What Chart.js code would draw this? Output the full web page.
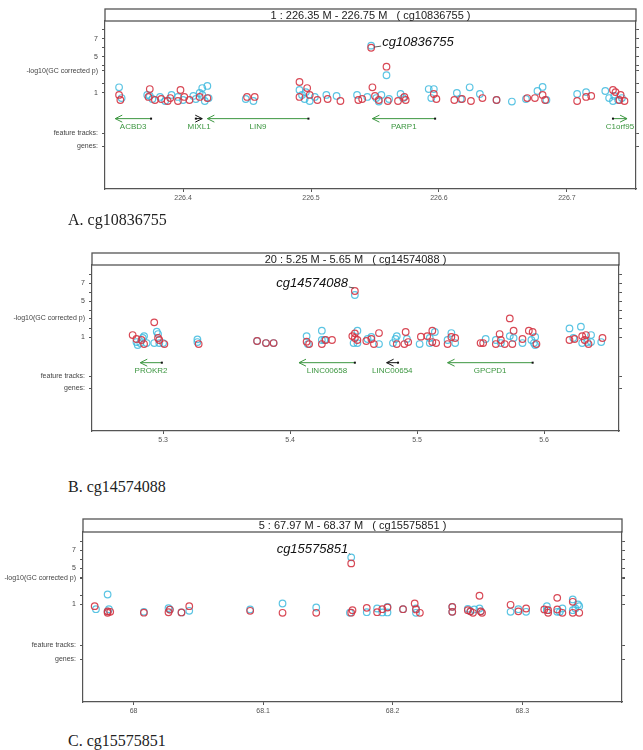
<!DOCTYPE html>
<html>
<head>
<meta charset="utf-8">
<script src="https://cdn.jsdelivr.net/npm/chart.js@4.4.1/dist/chart.umd.min.js"></script>
<style>
  body { margin: 0; background: #fff; width: 643px; height: 750px; position: relative; overflow: hidden; }
  canvas { position: absolute; left: 0; }
  .cap { position: absolute; left: 68px; font: 16px "Liberation Serif", "DejaVu Serif", serif; color: #222; line-height: 18px; }
</style>
</head>
<body>
<canvas id="chartA" width="643" height="212" style="top:0px"></canvas>
<div class="cap" style="top:211px">A. cg10836755</div>
<canvas id="chartB" width="643" height="212" style="top:244px"></canvas>
<div class="cap" style="top:478px">B. cg14574088</div>
<canvas id="chartC" width="643" height="212" style="top:510px"></canvas>
<div class="cap" style="top:732px">C. cg15575851</div>

<script>
// ---- Panel A: chr1 226.35 - 226.75 M ----
const redPosA = [226.350, 226.351, 226.374, 226.373, 226.378, 226.383, 226.390, 226.388, 226.396, 226.398, 226.401, 226.405, 226.413, 226.419, 226.450, 226.456, 226.491, 226.497, 226.491, 226.499, 226.505, 226.513, 226.523, 226.537, 226.548, 226.547, 226.559, 226.550, 226.553, 226.560, 226.540, 226.568, 226.573, 226.574, 226.596, 226.598, 226.612, 226.618, 226.625, 226.634, 226.645, 226.669, 226.675, 226.681, 226.683, 226.708, 226.715, 226.719, 226.736, 226.738, 226.741, 226.745, 226.742];
const redValA = [0.78, 0.22, 1.44, 0.56, 0.22, 0.33, 0.44, 0.11, 0.11, 1.33, 0.56, 0.22, 0.56, 0.44, 0.56, 0.56, 2.22, 1.55, 0.56, 0.78, 0.22, 0.33, 0.11, 0.22, 1.63, 6.03, 3.92, 0.67, 0.22, 0.11, 0.33, 0.11, 0.56, 0.22, 0.89, 0.33, 0.22, 0.33, 0.11, 0.44, 0.22, 0.44, 0.44, 0.78, 0.22, 0.11, 0.56, 0.67, 1.33, 1.10, 0.22, 0.11, 0.78];
const cyanPosA = [226.350, 226.352, 226.372, 226.374, 226.376, 226.382, 226.386, 226.391, 226.396, 226.400, 226.408, 226.410, 226.413, 226.415, 226.417, 226.415, 226.419, 226.420, 226.449, 226.455, 226.491, 226.493, 226.495, 226.496, 226.499, 226.503, 226.512, 226.520, 226.536, 226.544, 226.547, 226.559, 226.551, 226.555, 226.561, 226.553, 226.570, 226.572, 226.592, 226.596, 226.594, 226.614, 226.617, 226.624, 226.632, 226.645, 226.657, 226.668, 226.677, 226.681, 226.684, 226.708, 226.715, 226.730, 226.733, 226.737, 226.740, 226.743, 226.736];
const cyanValA = [1.63, 0.44, 0.78, 0.67, 0.33, 0.56, 0.11, 0.78, 0.56, 0.22, 0.67, 0.33, 1.00, 0.78, 0.11, 1.55, 1.78, 0.44, 0.33, 0.11, 1.33, 0.78, 0.33, 1.10, 0.11, 0.56, 0.78, 0.67, 0.78, 0.56, 6.26, 2.97, 0.44, 0.78, 0.33, 0.05, 0.89, 0.44, 1.44, 1.44, 0.44, 1.00, 0.33, 1.63, 0.89, 0.22, 0.05, 0.33, 1.22, 1.67, 0.22, 0.89, 1.10, 1.22, 0.44, 0.67, 0.22, 0.44, 0.11];
const geneNamesA = ['ACBD3', 'MIXL1', 'LIN9', 'PARP1', 'C1orf95'];
const geneStartA = [226.347, 226.410, 226.419, 226.548, 226.736];
const geneEndA = [226.375, 226.415, 226.498, 226.597, 226.747];
const geneStrandA = [-1, 1, -1, -1, 1];
const xTicksA = [226.4, 226.5, 226.6, 226.7];
const xTickLabelsA = ['226.4', '226.5', '226.6', '226.7'];

// ---- Panel B: chr20 5.25 - 5.65 M ----
const redPosB = [5.276, 5.279, 5.283, 5.285, 5.293, 5.296, 5.297, 5.301, 5.328, 5.374, 5.381, 5.387, 5.413, 5.415, 5.425, 5.428, 5.433, 5.451, 5.451, 5.449, 5.451, 5.453, 5.460, 5.464, 5.466, 5.470, 5.484, 5.491, 5.490, 5.493, 5.503, 5.508, 5.512, 5.515, 5.512, 5.527, 5.530, 5.524, 5.550, 5.552, 5.565, 5.562, 5.569, 5.566, 5.573, 5.576, 5.575, 5.583, 5.588, 5.591, 5.594, 5.620, 5.624, 5.630, 5.633, 5.632, 5.635, 5.646];
const redValB = [1.22, 0.78, 0.67, 0.22, 2.63, 0.89, 0.67, 0.22, 0.22, 0.56, 0.33, 0.33, 0.48, 0.22, 0.22, 0.67, 0.67, 6.11, 1.41, 1.10, 0.89, 0.67, 0.56, 0.78, 0.22, 1.44, 0.22, 1.56, 0.22, 0.44, 1.04, 1.10, 1.70, 0.33, 0.44, 1.00, 0.89, 0.22, 0.33, 0.33, 1.33, 0.22, 0.22, 0.67, 3.07, 1.70, 0.22, 0.78, 1.70, 1.56, 0.22, 0.67, 0.78, 1.10, 1.22, 0.67, 0.22, 0.89];
const cyanPosB = [5.279, 5.280, 5.284, 5.285, 5.282, 5.287, 5.295, 5.296, 5.293, 5.297, 5.300, 5.327, 5.327, 5.374, 5.381, 5.387, 5.413, 5.414, 5.425, 5.425, 5.427, 5.451, 5.453, 5.450, 5.453, 5.461, 5.464, 5.470, 5.484, 5.483, 5.481, 5.492, 5.502, 5.510, 5.514, 5.510, 5.524, 5.527, 5.530, 5.554, 5.562, 5.566, 5.573, 5.576, 5.583, 5.590, 5.592, 5.593, 5.593, 5.620, 5.623, 5.629, 5.630, 5.634, 5.637, 5.637, 5.645];
const cyanValB = [0.44, 0.11, 0.89, 1.10, 0.33, 0.33, 1.59, 1.33, 0.33, 0.33, 0.33, 0.74, 0.44, 0.56, 0.33, 0.33, 1.10, 0.22, 1.70, 0.67, 0.67, 5.67, 1.70, 0.33, 0.33, 0.78, 1.00, 0.22, 1.10, 0.78, 0.33, 0.78, 0.22, 0.89, 1.56, 0.33, 0.67, 1.44, 0.33, 0.78, 0.67, 0.33, 1.10, 0.89, 0.33, 0.67, 0.33, 1.00, 0.11, 1.96, 0.89, 2.15, 0.33, 0.44, 1.22, 0.44, 0.44];
const geneNamesB = ['PROKR2', 'LINC00658', 'LINC00654', 'GPCPD1'];
const geneStartB = [5.282, 5.407, 5.476, 5.524];
const geneEndB = [5.299, 5.451, 5.485, 5.591];
const geneStrandB = [-1, -1, -1, -1];
const xTicksB = [5.3, 5.4, 5.5, 5.6];
const xTickLabelsB = ['5.3', '5.4', '5.5', '5.6'];

// ---- Panel C: chr5 67.97 - 68.37 M ----
const redPosC = [67.970, 67.980, 67.982, 67.980, 68.008, 68.027, 68.028, 68.037, 68.043, 68.090, 68.115, 68.141, 68.168, 68.169, 68.168, 68.180, 68.188, 68.192, 68.196, 68.208, 68.217, 68.218, 68.221, 68.246, 68.246, 68.258, 68.260, 68.262, 68.267, 68.268, 68.269, 68.291, 68.297, 68.303, 68.317, 68.320, 68.320, 68.327, 68.327, 68.331, 68.339, 68.339, 68.344];
const redValC = [0.78, 0.04, 0.15, 0.20, 0.05, 0.10, 0.40, 0.08, 0.78, 0.26, 0.04, 0.04, 5.52, 0.33, 0.05, 0.59, 0.11, 0.44, 0.63, 0.44, 1.07, 0.41, 0.04, 0.70, 0.15, 0.33, 0.20, 0.04, 1.93, 0.20, 0.04, 0.93, 0.20, 0.52, 0.41, 0.33, 0.04, 1.70, 0.41, 0.04, 1.26, 0.04, 0.04];
const cyanPosC = [67.971, 67.980, 67.981, 67.980, 68.008, 68.027, 68.028, 68.037, 68.043, 68.090, 68.115, 68.141, 68.168, 68.167, 68.180, 68.188, 68.192, 68.196, 68.196, 68.208, 68.218, 68.218, 68.246, 68.246, 68.258, 68.260, 68.263, 68.267, 68.268, 68.291, 68.297, 68.303, 68.319, 68.319, 68.327, 68.329, 68.331, 68.339, 68.343, 68.339, 68.341, 68.344];
const cyanValC = [0.44, 2.07, 0.44, 0.20, 0.15, 0.56, 0.40, 0.08, 0.26, 0.41, 1.07, 0.63, 6.19, 0.05, 0.11, 0.52, 0.08, 0.70, 0.08, 0.44, 0.52, 0.04, 0.70, 0.15, 0.48, 0.20, 0.41, 0.52, 0.20, 0.15, 0.44, 0.15, 0.78, 0.33, 0.15, 0.15, 0.52, 1.52, 0.97, 0.33, 0.52, 0.78];
const xTicksC = [68.0, 68.1, 68.2, 68.3];
const xTickLabelsC = ['68', '68.1', '68.2', '68.3'];

const RED = 'rgba(212, 52, 66, 0.9)';
const CYAN = 'rgba(62, 186, 222, 0.85)';
const GENE_GREEN = '#3c9640';
const AXIS = '#555';

// draws the title strip, gene arrows and the probe label
const panelPlugin = {
  id: 'panel',
  afterDraw(chart, args, o) {
    const { ctx, chartArea: a, scales: { x, y } } = chart;
    ctx.save();
    // title box
    ctx.strokeStyle = AXIS;
    ctx.lineWidth = 1.3;
    ctx.strokeRect(a.left, o.boxTop, a.right - a.left, a.top - o.boxTop);
    ctx.fillStyle = '#222';
    ctx.font = '11px "Liberation Sans", Arial, sans-serif';
    ctx.textAlign = 'center';
    ctx.textBaseline = 'middle';
    ctx.fillText(o.title, (a.left + a.right) / 2, (o.boxTop + a.top) / 2 + 0.5);

    ctx.beginPath();
    ctx.rect(a.left, a.top, a.right - a.left, a.bottom - a.top);
    ctx.clip();

    // genes
    const gy = y.getPixelForValue(-1.85);
    const ly = y.getPixelForValue(-2.75);
    (o.genes || []).forEach((g, i) => {
      const x1 = x.getPixelForValue(o.start[i]);
      const x2 = x.getPixelForValue(o.end[i]);
      const col = o.colors[i];
      ctx.strokeStyle = col;
      ctx.lineWidth = 1;
      ctx.beginPath();
      ctx.moveTo(x1, gy);
      ctx.lineTo(x2, gy);
      ctx.stroke();
      const hx = o.strand[i] < 0 ? x1 : x2;
      const tx = o.strand[i] < 0 ? x2 : x1;
      const d = o.strand[i] < 0 ? 1 : -1;
      ctx.beginPath();
      ctx.moveTo(hx + d * 7, gy - 3.5);
      ctx.lineTo(hx, gy);
      ctx.lineTo(hx + d * 7, gy + 3.5);
      ctx.stroke();
      ctx.fillStyle = '#111';
      ctx.fillRect(tx - 1, gy - 1, 2, 2);
      ctx.fillStyle = GENE_GREEN;
      ctx.font = '8px "Liberation Sans", Arial, sans-serif';
      ctx.textAlign = 'center';
      ctx.fillText(g, (x1 + x2) / 2, ly);
    });

    // probe label with leader line
    const px = x.getPixelForValue(o.probePos);
    const py = y.getPixelForValue(o.probeVal);
    const lx = px + o.dx, lyy = py + o.dy;
    ctx.strokeStyle = '#333';
    ctx.lineWidth = 0.8;
    ctx.beginPath();
    ctx.moveTo(px + (o.dx > 0 ? 3 : -1), py + (o.dx > 0 ? 0 : -3));
    ctx.lineTo(lx + (o.dx > 0 ? -1 : 1), lyy + 2);
    ctx.stroke();
    ctx.fillStyle = '#111';
    ctx.font = 'italic 13px "Liberation Sans", Arial, sans-serif';
    ctx.textAlign = o.dx > 0 ? 'left' : 'right';
    ctx.textBaseline = 'middle';
    ctx.fillText(o.probe, lx, lyy - 2);
    ctx.restore();
  }
};

function pts(pos, val) {
  return pos.map((v, i) => ({ x: v, y: val[i] }));
}

function drawPanel(id, p) {
  const ctx = document.getElementById(id).getContext('2d');
  const yTickVals = [p.genesAt, p.featAt, 1, 2, p.ylabAt, 4, 5, 6, 7, 8];
  const yTickText = ['genes:', 'feature tracks:', '1', '', '-log10(GC corrected p)', '', '5', '', '7', ''];
  const yScale = (pos) => ({
    type: 'linear',
    position: pos,
    min: p.yMin,
    max: 9,
    afterFit: (s) => { s.width = pos === 'left' ? p.left : 643 - p.right; },
    afterBuildTicks: (s) => { s.ticks = yTickVals.map(v => ({ value: v })); },
    ticks: {
      display: pos === 'left',
      autoSkip: false,
      padding: 4,
      color: '#444',
      font: { size: 7, family: '"Liberation Sans", Arial, sans-serif' },
      callback: (v, i) => yTickText[i]
    },
    grid: { drawOnChartArea: false, tickLength: 3, color: AXIS },
    border: { color: AXIS, width: 1.2 }
  });

  return new Chart(ctx, {
    type: 'scatter',
    data: {
      datasets: [
        { data: pts(p.redPos, p.redVal), pointBorderColor: RED, pointBackgroundColor: 'rgba(0,0,0,0)', pointBorderWidth: 1.2, pointRadius: 3.3 },
        { data: pts(p.cyanPos, p.cyanVal), pointBorderColor: CYAN, pointBackgroundColor: 'rgba(0,0,0,0)', pointBorderWidth: 1.2, pointRadius: 3.3 }
      ]
    },
    options: {
      responsive: false,
      animation: false,
      events: [],
      layout: { padding: { top: p.top, left: 0, right: 0, bottom: 0 } },
      plugins: {
        legend: { display: false },
        tooltip: { enabled: false },
        panel: p.panel
      },
      scales: {
        x: {
          type: 'linear',
          min: p.xMin,
          max: p.xMax,
          afterFit: (s) => { s.height = p.axisH; },
          afterBuildTicks: (s) => { s.ticks = p.xTicks.map(v => ({ value: v })); },
          ticks: {
            autoSkip: false,
            maxRotation: 0,
            padding: 2,
            color: '#555',
            font: { size: 7, family: '"Liberation Sans", Arial, sans-serif' },
            callback: (v, i) => p.xLabels[i]
          },
          grid: { drawOnChartArea: false, tickLength: 3, color: AXIS },
          border: { color: AXIS, width: 1.2 }
        },
        y: yScale('left'),
        y2: yScale('right')
      }
    },
    plugins: [panelPlugin]
  });
}

drawPanel('chartA', {
  redPos: redPosA, redVal: redValA, cyanPos: cyanPosA, cyanVal: cyanValA,
  xTicks: xTicksA, xLabels: xTickLabelsA,
  xMin: 226.339, xMax: 226.754, yMin: -9.67,
  top: 21, axisH: 23, left: 105, right: 636,
  genesAt: -4.9, featAt: -3.45, ylabAt: 3.45,
  panel: {
    boxTop: 9, title: '1 : 226.35 M - 226.75 M   ( cg10836755 )',
    genes: geneNamesA, start: geneStartA, end: geneEndA, strand: geneStrandA,
    colors: [GENE_GREEN, '#111', GENE_GREEN, GENE_GREEN, GENE_GREEN],
    probe: 'cg10836755', probePos: 226.547, probeVal: 6.1, dx: 11, dy: -3
  }
});

drawPanel('chartB', {
  redPos: redPosB, redVal: redValB, cyanPos: cyanPosB, cyanVal: cyanValB,
  xTicks: xTicksB, xLabels: xTickLabelsB,
  xMin: 5.244, xMax: 5.659, yMin: -9.44,
  top: 21, axisH: 25, left: 92, right: 619,
  genesAt: -4.7, featAt: -3.35, ylabAt: 3.1,
  panel: {
    boxTop: 9, title: '20 : 5.25 M - 5.65 M   ( cg14574088 )',
    genes: geneNamesB, start: geneStartB, end: geneEndB, strand: geneStrandB,
    colors: [GENE_GREEN, GENE_GREEN, '#111', GENE_GREEN],
    probe: 'cg14574088', probePos: 5.451, probeVal: 6.11, dx: -7, dy: -6
  }
});

drawPanel('chartC', {
  redPos: redPosC, redVal: redValC, cyanPos: cyanPosC, cyanVal: cyanValC,
  xTicks: xTicksC, xLabels: xTickLabelsC,
  xMin: 67.961, xMax: 68.377, yMin: -9.85,
  top: 22, axisH: 20, left: 83, right: 622,
  genesAt: -5.1, featAt: -3.55, ylabAt: 3.85,
  panel: {
    boxTop: 9, title: '5 : 67.97 M - 68.37 M   ( cg15575851 )',
    genes: [], start: [], end: [], strand: [], colors: [],
    probe: 'cg15575851', probePos: 68.168, probeVal: 6.19, dx: -3, dy: -6
  }
});
</script>
</body>
</html>
